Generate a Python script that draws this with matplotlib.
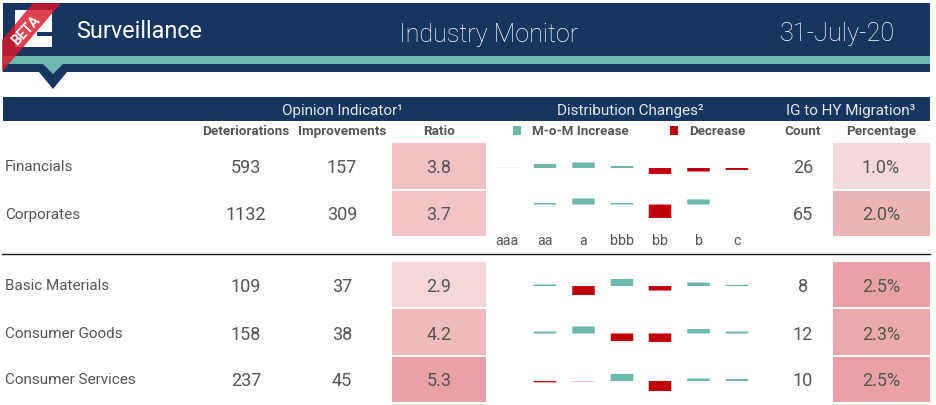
import matplotlib
matplotlib.use("Agg")
import matplotlib.pyplot as plt
from matplotlib.colors import LinearSegmentedColormap, Normalize
from matplotlib.patches import Polygon, Rectangle

plt.rcParams["font.family"] = ["Roboto", "DejaVu Sans"]

NAVY = "#16365f"
TEAL = "#6cb9ab"
BAND = "#6fb5b2"
RED = "#c00008"
GRAY = "#555555"

sectors = ["Financials", "Corporates", "Basic Materials", "Consumer Goods", "Consumer Services"]
deteriorations = [593, 1132, 109, 158, 237]
improvements = [157, 309, 37, 38, 45]
ratio = [3.8, 3.7, 2.9, 4.2, 5.3]
ig_count = [26, 65, 8, 12, 10]
ig_pct = [1.0, 2.0, 2.5, 2.3, 2.5]

ratings = ["aaa", "aa", "a", "bbb", "bb", "b", "c"]
dist_financials = [0.15, 4, 5.5, 2, -6, -3.5, -2]
dist_corporates = [0, 1.5, 6, 1.5, -13.5, 5, 0]
dist_basic = [0, 1.5, -9, 7, -4.5, 3.5, 1.2]
dist_goods = [0, 2, 7, -7.5, -8.5, 4.5, 2]
dist_services = [0, -1.3, -0.25, 7, -10, 2.5, 2]

# layout, in pixels of the 936x405 picture
row_top = [143, 191, 262, 309, 357]
row_bottom = [189, 236, 307, 355, 402]
row_mid = [166.5, 214, 285, 333, 380]
bar_base = [168, 204.5, 286, 333.5, 381]
rating_x = [507, 545, 583.5, 622, 660, 698.5, 737]

fig = plt.figure(figsize=(9.36, 4.05), dpi=100)
ax = fig.add_axes([0, 0, 1, 1])
ax.set_xlim(0, 936)
ax.set_ylim(405, 0)
ax.axis("off")


def rect(x0, y0, x1, y1, color, **kw):
    ax.add_patch(Rectangle((x0, y0), x1 - x0, y1 - y0, facecolor=color, edgecolor="none", **kw))


# ── Banner ──────────────────────────────────────────────
rect(3, 3, 930, 72, NAVY)
rect(3, 56, 930, 64, BAND)
ax.add_patch(Polygon([(39, 72), (67, 72), (53, 89)], facecolor=NAVY, edgecolor="none"))
ax.add_patch(Polygon([(43, 64), (63, 64), (53, 74)], facecolor=BAND, edgecolor="none"))

# logo and beta ribbon
rect(15, 10, 52, 47, "white")
rect(37, 32, 52, 36, NAVY)
ax.add_patch(Polygon([(33, 3), (61, 3), (2, 72), (2, 40)], facecolor="#d8182a", edgecolor="none", alpha=0.82))
ax.text(26, 31, "BETA", color="white", fontsize=10, fontweight="bold", rotation=47,
        ha="center", va="center")

ax.text(76, 31, "Surveillance", color="white", fontsize=16.8, ha="left", va="center")
ax.text(488.5, 35, "Industry Monitor", color="white", fontsize=18.1, fontweight="light", ha="center", va="center")
ax.text(837, 34, "31-July-20", color="white", fontsize=18.2, fontweight="light", ha="center", va="center")

# ── Table header ────────────────────────────────────────
rect(3, 97, 930, 121, NAVY)
ax.text(342, 111.5, "Opinion Indicator¹", color="#e4e9f0", fontsize=11, ha="center", va="center")
ax.text(630, 111.5, "Distribution Changes²", color="#e4e9f0", fontsize=11, ha="center", va="center")
ax.text(851, 111.5, "IG to HY Migration³", color="#e4e9f0", fontsize=11, ha="center", va="center")

for x, label in [(246, "Deteriorations"), (342, "Improvements"), (439, "Ratio"),
                 (803, "Count"), (881, "Percentage")]:
    ax.text(x, 131.5, label, color=GRAY, fontsize=9.7, fontweight="bold", ha="center", va="center")

rect(513, 126, 521, 135, TEAL)
ax.text(532, 131.5, "M-o-M Increase", color=GRAY, fontsize=9.6, fontweight="bold", ha="left", va="center")
rect(670, 126, 678, 135, RED)
ax.text(689, 131.5, "Decrease", color=GRAY, fontsize=9.6, fontweight="bold", ha="left", va="center")

# ── Rows ────────────────────────────────────────────────
cmap = LinearSegmentedColormap.from_list("heat", ["white", "#e8a2a6"])
ratio_norm = Normalize(1.0, 5.3)
pct_norm = Normalize(-0.1, 2.5)

for i, name in enumerate(sectors):
    y = row_mid[i]
    ax.text(5, y + 0.5, name, color=GRAY, fontsize=11, ha="left", va="center")
    ax.text(246, y + 1.5, str(deteriorations[i]), color=GRAY, fontsize=13, ha="center", va="center")
    ax.text(342, y + 1.5, str(improvements[i]), color=GRAY, fontsize=13, ha="center", va="center")
    rect(392, row_top[i], 486, row_bottom[i], cmap(ratio_norm(ratio[i])))
    ax.text(439, y + 1.5, f"{ratio[i]:.1f}", color=GRAY, fontsize=13, ha="center", va="center")
    ax.text(803, y + 1.5, str(ig_count[i]), color=GRAY, fontsize=13, ha="center", va="center")
    rect(833, row_top[i], 930, row_bottom[i], cmap(pct_norm(ig_pct[i])))
    ax.text(881, y + 1.5, f"{ig_pct[i]:.1f}%", color=GRAY, fontsize=13, ha="center", va="center")

# sliver of the next row, cut off by the picture edge
rect(392, 404, 486, 405, "#fbe6df")
rect(833, 404, 930, 405, "#fbe6df")

for base, values in zip(bar_base, [dist_financials, dist_corporates, dist_basic, dist_goods, dist_services]):
    colors = [TEAL if v > 0 else RED for v in values]
    ax.bar(rating_x, [-v for v in values], bottom=base, width=22.5, color=colors,
           edgecolor="none", linewidth=0, snap=False)

for x, label in zip(rating_x, ratings):
    ax.text(x, 241, label, color=GRAY, fontsize=10.3, ha="center", va="center")

ax.plot([2, 930], [253.5, 253.5], color="#1a1a1a", linewidth=1.0)

fig.savefig("out.png", dpi=100, facecolor="white")
